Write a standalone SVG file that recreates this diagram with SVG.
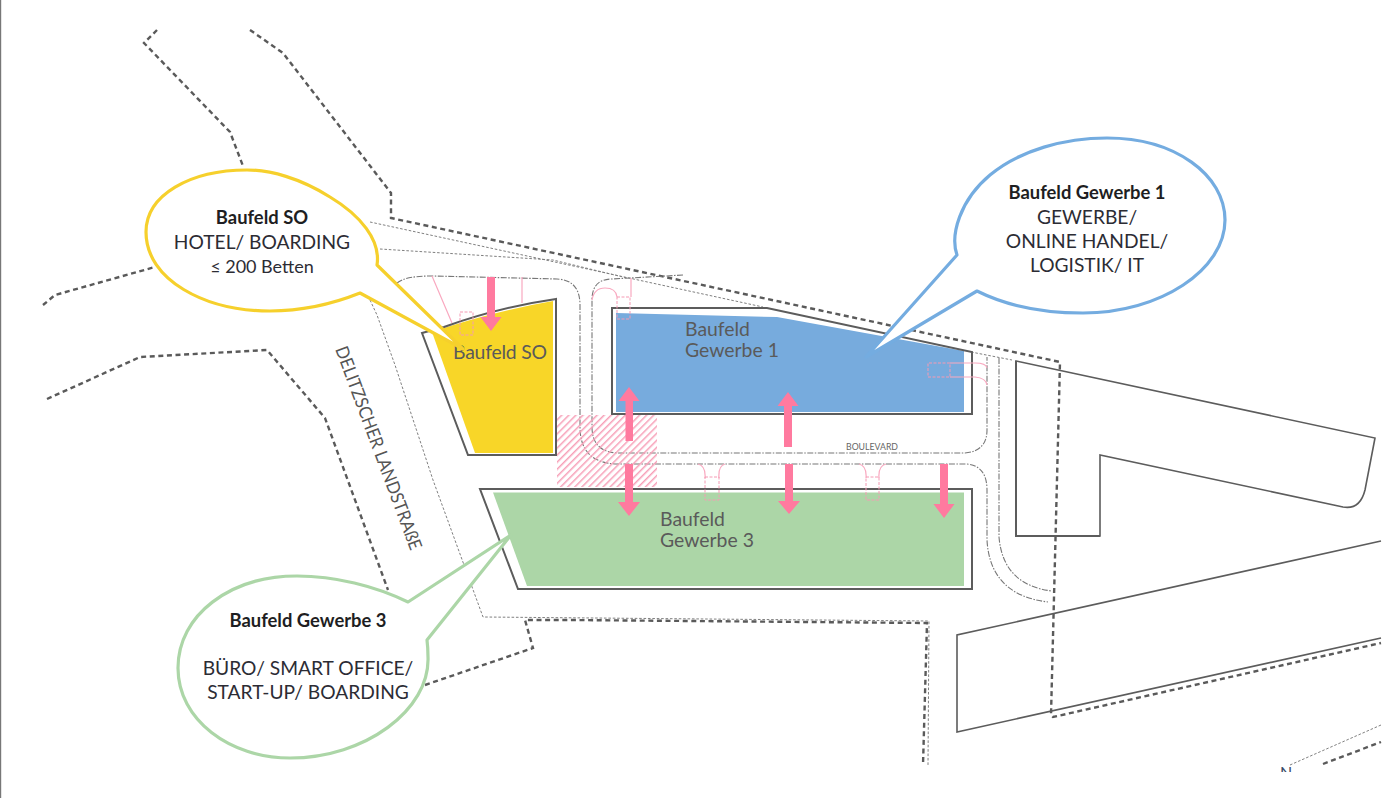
<svg xmlns="http://www.w3.org/2000/svg" width="1400" height="798" viewBox="0 0 1400 798">
<defs>
<pattern id="hatch" width="5" height="5" patternUnits="userSpaceOnUse" patternTransform="rotate(45)"><rect width="1.5" height="5" x="0" fill="#f7a0b8"/></pattern>
<clipPath id="nclip"><rect x="1270" y="760" width="30" height="12"/></clipPath>
</defs>
<style>
.b{fill:none;stroke:#5a5a5a;stroke-width:2.4;stroke-dasharray:5 3.6}
.t{fill:none;stroke:#808080;stroke-width:1;stroke-dasharray:2.6 1.8}
.r{fill:none;stroke:#777;stroke-width:1.1;stroke-dasharray:6 1.5 1.5 1.5}
.s{fill:none;stroke:#5c5c5c;stroke-width:1.6}
.o{fill:none;stroke:#5c5c5c;stroke-width:2}
.p{fill:none;stroke:#f9a9c0;stroke-width:1.2}
.d{fill:none;stroke:#f59ab4;stroke-width:1;stroke-dasharray:3 1.5}
.a{fill:#ff7a9f}
.f{font-family:"Lato","Liberation Sans",sans-serif}
.m{font-size:19.2px;fill:#2c2c34;text-anchor:middle}
.h{font-size:18.4px;font-weight:700;fill:#1e1e22;text-anchor:middle}
.l{font-size:19.4px;fill:#5a5a5a}
.c{fill:#fff;stroke-width:3.2;stroke-linejoin:round}
</style>
<rect width="1400" height="798" fill="#fff"/>
<rect x="0" y="0" width="1.2" height="798" fill="#777"/>
<g id="context-lines">
<path class="b" d="M157 30L144 43L230 132L243 166"/>
<path class="b" d="M250 30L283 53L391 193L391 218L1060 362L1051 715L1053 717L1381 643"/>
<path class="b" d="M43 305L55 295L155 267"/>
<path class="b" d="M47 399L140 357L267 350L325 418L388 590"/>
<path class="b" d="M425 685L533 648L525 620L570 620L927 623L923 765"/>
<path class="b" d="M1323 764L1381 742"/>
<path class="t" d="M370 222L763 307M971 352L1012 360"/>
<path class="t" d="M380 249L553 260L627 278"/>
<path class="t" d="M370 300L377 315L395 365L433 480L483 617L929 621L928 765"/>
<path class="t" d="M1290 765L1381 725"/>
<path class="s" d="M1016 361L1375 438L1365 490Q1360 510 1343 507L1100 455V536H1016Z"/>
<path class="o" d="M1016 361V536H1100"/>
<path class="s" d="M1381 541L957 635V732L1381 638"/>
</g>
<g id="roads">
<path class="r" d="M397 283Q405 276 432 276L557 279Q580 280 580 305V427Q580 463 617 464H967Q987 466 987 490V540Q990 595 1048 602"/>
<path class="r" d="M683 275L612 279Q592 279 592 300V427Q592 453 620 453H965Q987 451 987 430V357"/>
<path class="r" d="M999 358V537Q1003 585 1052 591"/>
</g>
<g id="hatch-zone"><rect x="557" y="415" width="100" height="72" fill="url(#hatch)"/></g>
<g id="field-so">
<path d="M432 332Q490 312 553 301V453H475Z" fill="#f8d628"/>
<path class="o" d="M422 333L444 327Q500 307 556 299V455H468Z"/>
<text class="f l" x="453" y="359" textLength="94">Baufeld SO</text>
</g>
<g id="field-gewerbe-1">
<path d="M616 313L777 317L964 351V412H616Z" fill="#77abdd"/>
<path class="o" d="M612 308H767L972 352V414H612Z"/>
<text class="f l"><tspan x="685" y="336">Baufeld</tspan><tspan x="685" y="357">Gewerbe 1</tspan></text>
</g>
<g id="field-gewerbe-3">
<path d="M493 492.500H964V586H527Z" fill="#acd6a7"/>
<path class="o" d="M480 489H972V589H518Z"/>
<text class="f l"><tspan x="660" y="526">Baufeld</tspan><tspan x="660" y="547">Gewerbe 3</tspan></text>
</g>
<g id="details">
<path class="p" d="M432 276L452 323M522 277V303M592 300Q594 288 605 288Q616 288 617 297M631 278V297M950 363H975Q986 363 987 368M950 377H975Q986 378 987 385"/>
<path class="p" d="M698 464Q706 466 705 478M725 464Q718 466 719 478M859 464Q867 466 866 478M886 464Q878 466 879 478"/>
<rect class="d" x="460" y="312" width="13" height="23"/>
<rect class="d" x="617" y="297" width="13" height="22"/>
<path class="d" d="M950 363H928V377H950Z"/>
<path class="d" d="M705 477H719V500H705Z"/>
<path class="d" d="M866 477H879V500H866Z"/>
</g>
<g id="arrows">
<path class="a" d="M487 277H495V317H501.500L491 331L480.500 317H487Z"/>
<path class="a" d="M629 387L639.500 401H633V441H625.500V401H618.500Z"/>
<path class="a" d="M788 392L798.500 406H792V447H784V406H777.500Z"/>
<path class="a" d="M625 464H633V502H640L629 516L618 502H625Z"/>
<path class="a" d="M785 464H793V501H800L789 514L778 501H785Z"/>
<path class="a" d="M940 464H948V504H954.500L944 518L933.500 504H940Z"/>
</g>
<g id="labels">
<text class="f" x="846" y="450" font-size="9" fill="#666" textLength="52" lengthAdjust="spacingAndGlyphs">BOULEVARD</text>
<text class="f" x="0" y="0" font-size="18" fill="#555" transform="translate(335 349) rotate(69.500)" textLength="216" lengthAdjust="spacingAndGlyphs">DELITZSCHER LANDSTRAßE</text>
<text class="f" x="1280" y="778" font-size="16" fill="#3a4a66" clip-path="url(#nclip)">N</text>
</g>
<g id="callout-so">
<path class="c" stroke="#f6d02c" d="M463 349L377 265C381 240 360 215 330 197C300 178 270 170 247 170C190 170 146 195 146 232C146 280 205 311 270 311C305 311 335 303 360 293Z"/>
<text class="f h" x="262" y="224">Baufeld SO</text>
<text class="f m" x="262" y="249">HOTEL/ BOARDING</text>
<text class="f m" x="262" y="273" style="font-size:18px">≤ 200 Betten</text>
</g>
<g id="callout-gewerbe-1">
<path class="c" stroke="#74ace0" d="M866 357L957 255C950 235 960 200 990 175C1020 150 1065 138 1107 138C1175 138 1225 175 1225 220C1225 270 1160 313 1083 313C1040 313 1005 305 977 291Z"/>
<text class="f h" x="1087" y="199">Baufeld Gewerbe 1</text>
<text class="f m" x="1087" y="224">GEWERBE/</text>
<text class="f m" x="1087" y="248">ONLINE HANDEL/</text>
<text class="f m" x="1087" y="272">LOGISTIK/ IT</text>
</g>
<g id="callout-gewerbe-3">
<path class="c" stroke="#acd6a7" d="M511 535L408 602C375 586 335 576 297 576C230 576 178 615 178 668C178 720 230 758 290 758C365 758 430 710 428 657Q428 648 427 640Z"/>
<text class="f h" x="308" y="627">Baufeld Gewerbe 3</text>
<text class="f m" x="308" y="675">BÜRO/ SMART OFFICE/</text>
<text class="f m" x="308" y="699">START-UP/ BOARDING</text>
</g>
</svg>
